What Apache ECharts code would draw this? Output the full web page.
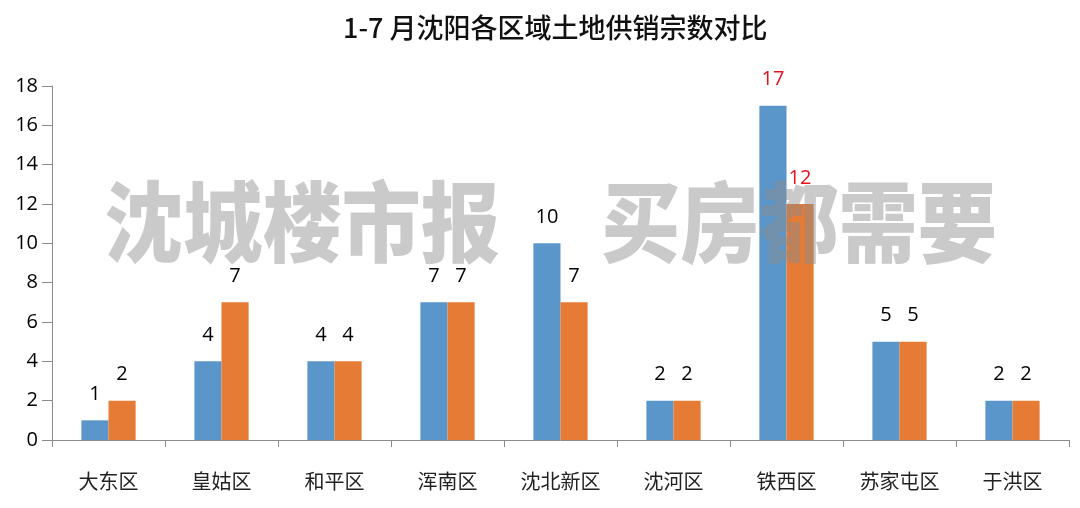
<!DOCTYPE html>
<html><head><meta charset="utf-8">
<script src="https://cdn.jsdelivr.net/npm/echarts@6/dist/echarts.min.js"></script>
<style>html,body{margin:0;padding:0;background:#fff}#c{width:1080px;height:508px}</style>
</head><body><div id="c"></div>
<script>
const titleText = '1-7 月沈阳各区域土地供销宗数对比';
const categories = ['大东区','皇姑区','和平区','浑南区','沈北新区','沈河区','铁西区','苏家屯区','于洪区'];
const seriesA = [1,4,4,7,10,2,17,5,2];
const seriesB = [2,7,4,7,7,2,12,5,2];
const highlight = '铁西区';
const yTicks = {min:0, max:18, interval:2};
const watermark = ['沈城楼市报', '买房都需要'];

const chart = echarts.init(document.getElementById('c'));
const numFont = '"Open Sans","Noto Sans",sans-serif';
function mk(vals, color){
  return {
    type:'bar', barGap:'0%', barCategoryGap:'52%',
    itemStyle:{color:color},
    data: vals.map((v,i)=>({value:v, label:{color: categories[i]===highlight ? '#e8141c' : '#000'}})),
    label:{show:true, position:'top', distance:16, fontSize:20, fontFamily:numFont},
    silent:true
  };
}
chart.setOption({
  animation:false,
  title:{text:titleText, left:338, top:9,
    textStyle:{fontSize:27, fontWeight:500, color:'#111', fontFamily:'"Noto Sans CJK SC",sans-serif'}},
  grid:{left:52, right:11, top:86, bottom:68, containLabel:false},
  xAxis:{type:'category', data:categories,
    axisLine:{lineStyle:{color:'#8c8c8c', width:1}},
    axisTick:{show:true, alignWithLabel:false, length:7, lineStyle:{color:'#8c8c8c'}},
    axisLabel:{fontSize:20, color:'#222', margin:31, fontFamily:'"Noto Sans CJK SC",sans-serif'}},
  yAxis:{type:'value', min:yTicks.min, max:yTicks.max, interval:yTicks.interval,
    splitLine:{show:false},
    axisLine:{show:true, lineStyle:{color:'#8c8c8c'}},
    axisTick:{show:true, inside:false, length:10, lineStyle:{color:'#8c8c8c'}},
    axisLabel:{fontSize:20, color:'#000', margin:14, fontFamily:numFont}},
  series:[mk(seriesA,'#5b96ca'), mk(seriesB,'#e67b36')],
  graphic:[
    {type:'text', x:302, y:222, z:100, scaleX:0.9,
      style:{text:watermark[0], fill:'rgba(140,140,140,0.46)', fontSize:88, fontWeight:900,
        fontFamily:'"Noto Sans CJK SC",sans-serif', align:'center', verticalAlign:'middle'}},
    {type:'text', x:799, y:222, z:100, scaleX:0.9,
      style:{text:watermark[1], fill:'rgba(140,140,140,0.46)', fontSize:88, fontWeight:900,
        fontFamily:'"Noto Sans CJK SC",sans-serif', align:'center', verticalAlign:'middle'}}
  ]
});
</script></body></html>
